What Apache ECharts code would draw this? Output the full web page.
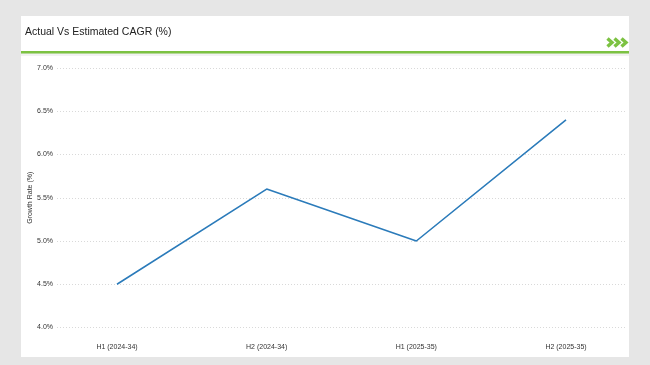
<!DOCTYPE html>
<html>
<head>
<meta charset="utf-8">
<script src="https://cdn.jsdelivr.net/npm/echarts@6/dist/echarts.min.js"></script>
<style>html,body{margin:0;padding:0;background:#e6e6e6;}#c{width:650px;height:365px;}</style>
</head>
<body>
<div id="c"></div>
<script>
const categories = ["H1 (2024-34)", "H2 (2024-34)", "H1 (2025-35)", "H2 (2025-35)"];
const growthValues = [4.5, 5.6, 5.0, 6.4];
const yTicks = [4.0, 4.5, 5.0, 5.5, 6.0, 6.5, 7.0];
const titleText = "Actual Vs Estimated CAGR (%)";
const yAxisTitle = "Growth Rate (%)";

const chart = echarts.init(document.getElementById('c'), null, {renderer: 'canvas'});
const FONT = 'Liberation Sans';
const yMin = yTicks[0], yMax = yTicks[yTicks.length - 1];
const chev = [];
for (let i = 0; i < 3; i++) {
  const x0 = 607.5 + i * 7;
  chev.push({type: 'polyline', shape: {points: [[x0, 38.5], [x0 + 4.5, 42.5], [x0, 46.5]]},
    style: {stroke: '#7cc242', lineWidth: 3.4, fill: null}, z: 10});
}
chart.setOption({
  backgroundColor: '#e6e6e6',
  animation: false,
  graphic: [
    {type: 'rect', shape: {x: 21, y: 16, width: 608, height: 35}, style: {fill: '#fff'}, z: 0},
    {type: 'rect', shape: {x: 21, y: 51, width: 608, height: 2.5}, style: {fill: '#7cc242'}, z: 1},
    {type: 'rect', shape: {x: 21, y: 53.5, width: 608, height: 2.5}, style: {fill: '#f2f2f2'}, z: 0},
    {type: 'rect', shape: {x: 21, y: 56, width: 608, height: 301}, style: {fill: '#fff'}, z: 0},
    {type: 'text', left: 25, top: 27, style: {text: titleText, font: '10.5px ' + FONT, fill: '#222'}, z: 10}
  ].concat(chev),
  grid: [
    {left: 57, right: 25, top: 68, bottom: 37.5},
    {left: 117, right: 84, top: 68, bottom: 37.5}
  ],
  xAxis: [
    {gridIndex: 0, type: 'category', data: categories, show: false},
    {gridIndex: 1, type: 'category', data: categories, boundaryGap: false,
      axisLine: {show: false}, axisTick: {show: false},
      axisLabel: {fontFamily: FONT, fontSize: 7, color: '#333', margin: 16}}
  ],
  yAxis: [
    {gridIndex: 0, type: 'value', min: yMin, max: yMax, interval: 0.5,
      name: yAxisTitle, nameLocation: 'middle', nameGap: 23.5, nameMoveOverlap: false,
      nameTextStyle: {fontFamily: FONT, fontSize: 7, color: '#333'},
      axisLine: {show: false}, axisTick: {show: false},
      axisLabel: {fontFamily: FONT, fontSize: 7, color: '#333', margin: 4,
        formatter: v => v.toFixed(1) + '%'},
      splitLine: {show: true, lineStyle: {color: '#d9d9d9', type: [1, 2], width: 1}}},
    {gridIndex: 1, type: 'value', min: yMin, max: yMax, interval: 0.5, show: false,
      splitLine: {show: false}}
  ],
  series: [{
    type: 'line', xAxisIndex: 1, yAxisIndex: 1, data: growthValues,
    symbol: 'none', lineStyle: {color: '#2b7bba', width: 1.6}, itemStyle: {color: '#2b7bba'}
  }]
});
</script>
</body>
</html>
